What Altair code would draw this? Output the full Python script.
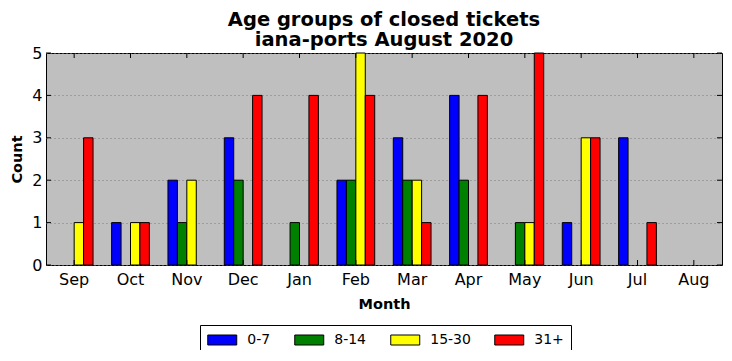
import altair as alt
import pandas as pd

months = ["Sep", "Oct", "Nov", "Dec", "Jan", "Feb", "Mar", "Apr", "May", "Jun", "Jul", "Aug"]
groups = ["0-7", "8-14", "15-30", "31+"]
counts_0_7 = [0, 1, 2, 3, 0, 2, 3, 4, 0, 1, 3, 0]
counts_8_14 = [0, 0, 1, 2, 1, 2, 2, 2, 1, 0, 0, 0]
counts_15_30 = [1, 1, 2, 0, 0, 5, 2, 0, 1, 3, 0, 0]
counts_31 = [3, 1, 0, 4, 4, 4, 1, 4, 5, 3, 1, 0]
colors = ["#0000ff", "#008000", "#ffff00", "#ff0000"]
y_ticks = [0, 1, 2, 3, 4, 5]

rows = []
for g, vals in zip(groups, [counts_0_7, counts_8_14, counts_15_30, counts_31]):
    for m, v in zip(months, vals):
        rows.append({"month": m, "group": g, "count": v})
df = pd.DataFrame(rows)
month_df = pd.DataFrame({"month": months})
tick_df = pd.DataFrame({"count": y_ticks})

W, H = 676, 212
FONT = "DejaVu Sans"

xscale = alt.Scale(domain=months, paddingInner=0.33, paddingOuter=0.165)
yscale = alt.Scale(domain=[0, 5], nice=False)

x_axis = alt.Axis(title="Month", labelAngle=0, ticks=False, domain=False,
                  labelFont=FONT, labelFontSize=16, labelPadding=6, labelColor="black",
                  titleFont=FONT, titleFontSize=14.5, titleFontWeight="bold", titleColor="black",
                  titlePadding=10)
y_axis = alt.Axis(title="Count", values=y_ticks, ticks=False, domain=False, grid=True,
                  gridDash=[1, 3], gridColor="#7a7a7a", gridWidth=1,
                  labelFont=FONT, labelFontSize=16, labelPadding=4, labelColor="black",
                  titleFont=FONT, titleFontSize=14.5, titleFontWeight="bold", titleColor="black",
                  titlePadding=7)

bars = alt.Chart(df).transform_filter("datum.count > 0").mark_bar(
    stroke="black", strokeWidth=1, opacity=1).encode(
    x=alt.X("month:N", sort=months, scale=xscale, axis=x_axis),
    xOffset=alt.XOffset("group:N", sort=groups,
                        scale=alt.Scale(domain=groups, paddingInner=0, paddingOuter=0)),
    y=alt.Y("count:Q", scale=yscale, axis=y_axis),
    color=alt.Color("group:N", sort=groups, scale=alt.Scale(domain=groups, range=colors),
                    legend=alt.Legend(title=None, orient="none", legendX=154, legendY=272,
                                      direction="horizontal", columns=4, columnPadding=21,
                                      strokeColor="black", fillColor="white", padding=7,
                                      cornerRadius=0, symbolType="M-2,-0.69H2V0.69H-2Z",
                                      symbolSize=210, symbolOffset=7.25,
                                      symbolStrokeColor="black",
                                      symbolStrokeWidth=1, symbolOpacity=1,
                                      labelFont=FONT, labelFontSize=14, labelOffset=17,
                                      labelColor="black")),
)

xt_bottom = alt.Chart(month_df).mark_rule(color="black", strokeWidth=1).encode(
    x=alt.X("month:N", sort=months, scale=xscale, axis=x_axis, bandPosition=0.5),
    y=alt.value(H), y2=alt.value(H - 5))
xt_top = alt.Chart(month_df).mark_rule(color="black", strokeWidth=1).encode(
    x=alt.X("month:N", sort=months, scale=xscale, axis=x_axis, bandPosition=0.5),
    y=alt.value(0), y2=alt.value(5))
yt_left = alt.Chart(tick_df).mark_rule(color="black", strokeWidth=1).encode(
    y=alt.Y("count:Q", scale=yscale, axis=y_axis),
    x=alt.value(0), x2=alt.value(5))
yt_right = alt.Chart(tick_df).mark_rule(color="black", strokeWidth=1).encode(
    y=alt.Y("count:Q", scale=yscale, axis=y_axis),
    x=alt.value(W), x2=alt.value(W - 5))

chart = alt.layer(bars, xt_bottom, xt_top, yt_left, yt_right).properties(
    width=W, height=H,
    title=alt.TitleParams(["Age groups of closed tickets", "iana-ports August 2020"],
                          font=FONT, fontSize=19.5, fontWeight="bold", color="black",
                          anchor="middle", frame="group", lineHeight=20.6, offset=3, dy=9),
    autosize=alt.AutoSizeParams(type="none"),
    padding={"left": 38, "top": 45, "right": 2, "bottom": 85},
    background="white",
).configure_view(fill="#bfbfbf", stroke="black", strokeWidth=1)

chart.save("out.html", embed_options={"renderer": "svg", "actions": False})
